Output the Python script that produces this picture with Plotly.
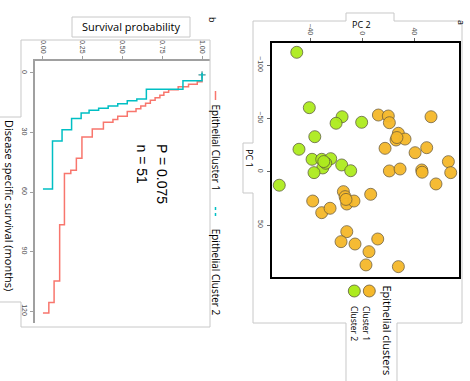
import plotly.graph_objects as go

W, H = 470, 381
def px(x): return x / W
def py(y): return 1 - y / H

# ---------------- Kaplan-Meier data (months, survival) ----------------
c1_times = [4.5, 5.7, 7.0, 8.5, 9.8, 11.3, 12.5, 13.8, 15.3, 16.7, 18.0, 19.5, 21.8,
            23.5, 24.8, 28.2, 32.3, 43.0, 49.0, 50.7, 76.5, 104.8, 115.7, 121.0]
c1_surv = [0.97, 0.915, 0.85, 0.79, 0.76, 0.735, 0.705, 0.675, 0.645, 0.615, 0.585, 0.53, 0.47,
           0.44, 0.38, 0.31, 0.245, 0.21, 0.175, 0.135, 0.105, 0.07, 0.037, 0.0]
c2_times = [4.0, 8.2, 13.2, 14.0, 15.5, 16.7, 17.8, 18.8, 20.2, 23.0, 28.7, 34.3, 58.5]
c2_surv = [0.88, 0.65, 0.59, 0.53, 0.47, 0.41, 0.35, 0.29, 0.24, 0.18, 0.12, 0.06, 0.0]
km_names = ["Epithelial Cluster 1", "Epithelial Cluster 2"]
prob_ticks = [0, 0.25, 0.5, 0.75, 1.0]
prob_ticktext = ["0.00", "0.25", "0.50", "0.75", "1.00"]
month_ticks = [0, 30, 60, 90, 120]

# ---------------- PCA data ----------------
g_pc2 = [-50.2, -40.6, -15.5, -20.1, -0.5, -36.4, -48.5, -38.5, -31.1, -24.2, -30.3, -28.0,
         -15.8, -8.9, -37.0, -63.6, -29.5]
g_pc1 = [-111.9, -60.0, -51.5, -45.4, -46.3, -32.8, -21.0, -11.6, -11.6, -12.2, -3.5, -7.9,
         -6.3, -0.9, 0.9, 12.7, -9.5]
o_pc2 = [12.3, 19.9, 20.7, 52.6, 27.6, 25.8, 32.7, 17.4, 40.4, 49.3, 65.9, 67.7, 20.7, 28.9,
         45.5, 45.8, 56.4, -38.0, -31.1, -24.7, -14.5, -13.2, -11.9, -6.4, 6.4, -11.9, -16.3,
         -5.6, 11.8, 5.1, 2.8, 27.6, 26.5, -12.5]
o_pc1 = [-53.1, -52.2, -45.9, -51.5, -36.0, -29.7, -30.6, -21.9, -17.8, -22.5, -9.4, 0.9, -0.7,
         -2.5, -1.6, 0.5, 11.5, 27.5, 38.4, 34.3, 18.7, 23.4, 30.3, 27.5, 21.2, 56.2, 65.6,
         67.8, 63.1, 75.0, 87.4, 89.0, -32.0, 26.0]
pc2_ticks = [-40, 0, 40]
pc1_ticks = [-100, -50, 0, 50]

SALMON = "#F8766D"
CYAN = "#00BFC4"
GREEN = "#ADEB1E"
ORANGE = "#F5B82A"

fig = go.Figure()

# KM curves (rotated: survival on x, months on y downward)
for t, s, col, nm in [(c1_times, c1_surv, SALMON, km_names[0]),
                      (c2_times, c2_surv, CYAN, km_names[1])]:
    fig.add_trace(go.Scatter(x=[1.0] + s, y=[0] + t, mode="lines", name=nm,
                             line=dict(color=col, width=1.5, shape="vh"),
                             xaxis="x", yaxis="y", showlegend=False))
    fig.add_trace(go.Scatter(x=[1.0], y=[1.0], mode="markers", showlegend=False,
                             marker=dict(symbol="cross-thin", size=5,
                                         line=dict(color=col, width=1)),
                             xaxis="x", yaxis="y"))

# PCA scatter
fig.add_trace(go.Scatter(x=g_pc2, y=g_pc1, mode="markers", name="Cluster 2", showlegend=False,
                         marker=dict(size=12, color=GREEN, opacity=0.95,
                                     line=dict(color="#5a5a3a", width=0.8)),
                         xaxis="x2", yaxis="y2"))
fig.add_trace(go.Scatter(x=o_pc2, y=o_pc1, mode="markers", name="Cluster 1", showlegend=False,
                         marker=dict(size=12, color=ORANGE, opacity=0.95,
                                     line=dict(color="#6a5a3a", width=0.8)),
                         xaxis="x2", yaxis="y2"))

tickfont = dict(size=7, color="#4d4d4d", family="Liberation Sans")

layout = dict(
    width=W, height=H, autosize=False,
    margin=dict(l=0, r=0, t=0, b=0),
    paper_bgcolor="white", plot_bgcolor="white",
    showlegend=False,
    xaxis=dict(domain=[px(35), px(210)], range=[-0.05, 1.05], side="top", anchor="y",
               showline=True, linecolor="#a0a0a0", linewidth=2, ticks="outside", ticklen=3,
               tickcolor="#a0a0a0", tickvals=prob_ticks, ticktext=prob_ticktext, tickangle=90,
               tickfont=tickfont, showgrid=False, zeroline=False, fixedrange=True),
    yaxis=dict(domain=[py(323), py(61)], range=[126, -6], anchor="x",
               showline=True, linecolor="#a0a0a0", linewidth=2, ticks="outside", ticklen=3,
               tickcolor="#a0a0a0", tickvals=month_ticks, tickangle=90,
               tickfont=tickfont, showgrid=False, zeroline=False, fixedrange=True),
    xaxis2=dict(domain=[px(271.7), px(458.7)], range=[-69.4, 73.8], side="top", anchor="y2",
                showline=True, mirror=True, linecolor="black", linewidth=2, ticks="outside",
                ticklen=3, tickcolor="#666", tickvals=pc2_ticks, tickangle=90,
                tickfont=tickfont, showgrid=False, zeroline=False, fixedrange=True),
    yaxis2=dict(domain=[py(277.3), py(42.7)], range=[99, -120.9], anchor="x2",
                showline=True, mirror=True, linecolor="black", linewidth=2, ticks="outside",
                ticklen=3, tickcolor="#666", tickvals=pc1_ticks, tickangle=90,
                tickfont=tickfont, showgrid=False, zeroline=False, fixedrange=True),
)
fig.update_layout(**layout)

def ann(text, x, y, size, angle=0, color="black", family="Open Sans"):
    fig.add_annotation(text=text, x=px(x), y=py(y), xref="paper", yref="paper",
                       showarrow=False, textangle=angle, xanchor="center", yanchor="middle",
                       font=dict(size=size, color=color, family=family))

ann("Survival probability", 131, 27, 11)
ann("Disease specific survival (months)", 10, 205, 11, 90)
ann("P = 0.075", 162, 174, 14, 90, family="Liberation Sans")
ann("n = 51", 141.5, 164, 14, 90, family="Liberation Sans")
ann(km_names[0], 216, 147.5, 10, 90)
ann(km_names[1], 216, 271.7, 10, 90)
ann("b", 213, 20, 9, 90)
ann("a", 461, 22, 9, 90)
ann("PC 2", 361, 24, 9)
ann("PC 1", 250, 158, 9, 90)
ann("Epithelial clusters", 387.5, 330, 11, 90)
ann("Cluster 1", 367, 323, 8.5, 90)
ann("Cluster 2", 355, 323, 8.5, 90)

def path(points):
    return "M " + " L ".join(f"{px(a):.5f},{py(b):.5f}" for a, b in points)

OUT = "#c8c8c8"
shapes = [
    dict(type="path", xref="paper", yref="paper", line=dict(color=OUT, width=1),
         path=path([(0, 117), (21, 117), (21, 40), (210, 40), (210, 327), (21, 327),
                    (21, 302), (0, 302)])),
    dict(type="rect", xref="paper", yref="paper", line=dict(color=OUT, width=1),
         x0=px(72), x1=px(190), y0=py(37), y1=py(17)),
    dict(type="path", xref="paper", yref="paper", line=dict(color=OUT, width=1),
         path=path([(346, 381), (346, 323), (253, 323), (253, 193), (243, 193), (243, 143),
                    (253, 143), (253, 21), (346, 21), (346, 13), (394, 13), (394, 21),
                    (462, 21), (462, 323), (397, 323), (397, 381)])),
    # KM legend swatches
    dict(type="line", xref="paper", yref="paper", line=dict(color=SALMON, width=1.5),
         x0=px(215.5), x1=px(215.5), y0=py(91), y1=py(100)),
    dict(type="line", xref="paper", yref="paper", line=dict(color=CYAN, width=1.5, dash="dot"),
         x0=px(215.5), x1=px(215.5), y0=py(207), y1=py(217)),
    # PCA legend keys
    dict(type="circle", xref="paper", yref="paper", fillcolor=ORANGE,
         line=dict(color="#6a5a3a", width=0.8),
         x0=px(363.3), x1=px(375.3), y0=py(297), y1=py(285)),
    dict(type="circle", xref="paper", yref="paper", fillcolor=GREEN,
         line=dict(color="#5a5a3a", width=0.8),
         x0=px(348.3), x1=px(360.3), y0=py(297), y1=py(285)),
]
fig.update_layout(shapes=shapes)

fig.write_html("out.html")
